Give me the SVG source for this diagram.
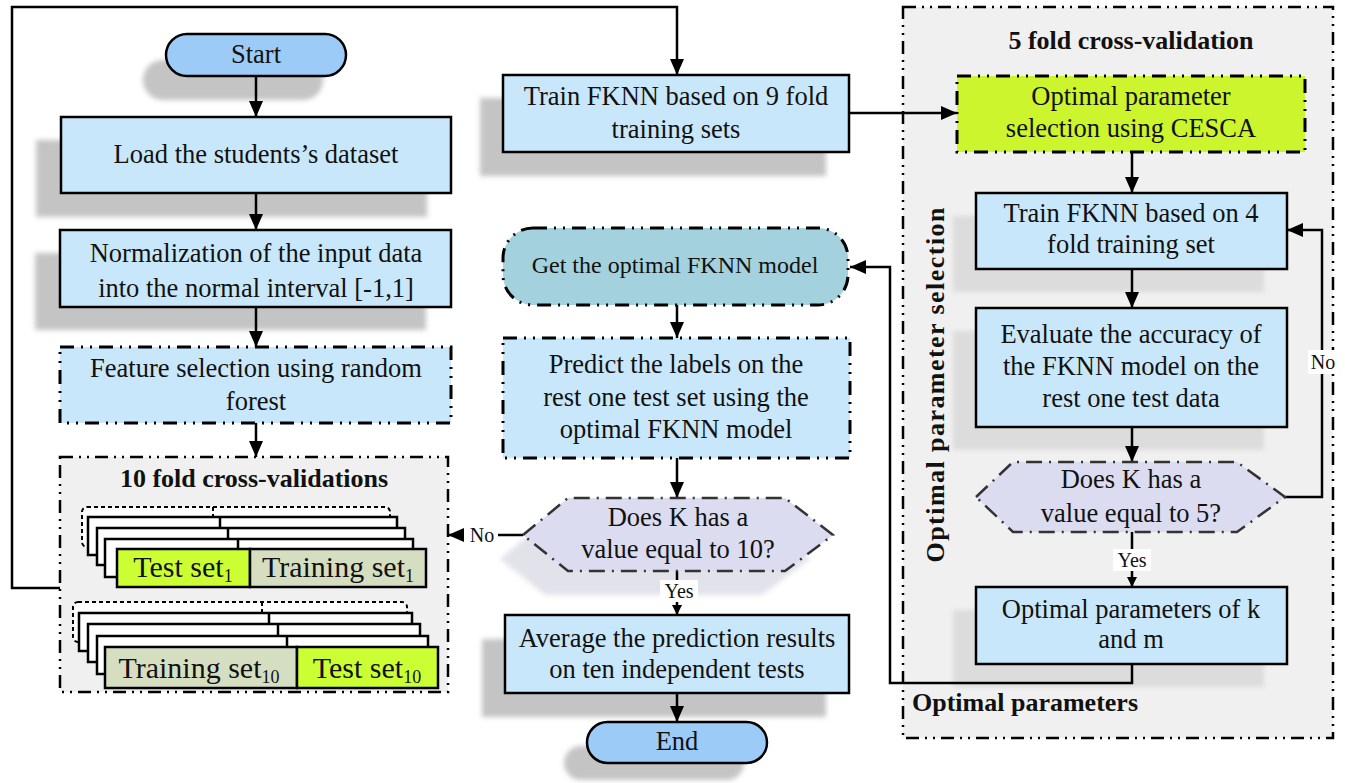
<svg xmlns="http://www.w3.org/2000/svg" width="1345" height="783" viewBox="0 0 1345 783">
  <defs>
    <style>
      text { font-family: "Liberation Serif", "Times New Roman", serif; fill: #111; }
      .t { font-size: 26.5px; text-anchor: middle; }
      .ts { font-size: 24px; text-anchor: middle; }
      .lbl { font-size: 20px; text-anchor: middle; }
      .bold { font-size: 26px; font-weight: bold; }
      .ct { font-size: 30px; text-anchor: middle; }
      .box { fill: #c9e7fa; stroke: #000; stroke-width: 2.5; }
      .term { fill: #9ccbf7; stroke: #000; stroke-width: 2.5; }
      .dd { stroke: #000; stroke-width: 3; stroke-dasharray: 14 7 2 7 2 7; }
      .panel { fill: #f0f0f0; stroke: #000; stroke-width: 2.5; stroke-dasharray: 13 6 2 6 2 6; }
      .hex { fill: #dcdcf0; stroke: #333; stroke-width: 2.5; stroke-dasharray: 16 7 2 7; }
      .shadow { fill: #c4c4c4; filter: url(#blur); }
      .shadow-l { fill: #dcdcdc; filter: url(#blur); }
      .card { fill: #fff; stroke: #000; stroke-width: 2.5; }
      .green { fill: #ccff33; stroke: #000; stroke-width: 2.5; }
      .olive { fill: #d6dec2; stroke: #000; stroke-width: 2.5; }
      .wire { fill: none; stroke: #000; stroke-width: 2.5; }
    </style>
    <filter id="blur" x="-10%" y="-20%" width="120%" height="140%">
      <feGaussianBlur stdDeviation="2.5"/>
    </filter>
    <marker id="ah" markerUnits="userSpaceOnUse" markerWidth="16" markerHeight="14" refX="16" refY="7" orient="auto">
      <path d="M0,0 L16,7 L0,14 z" fill="#000"/>
    </marker>
    <marker id="ahs" markerUnits="userSpaceOnUse" markerWidth="10" markerHeight="10" refX="10" refY="5" orient="auto">
      <path d="M0,0 L10,5 L0,10 z" fill="#000"/>
    </marker>
  </defs>

  <rect width="1345" height="783" fill="#fff"/>

  <!-- right panel: 5 fold cross-validation -->
  <g id="panel-5fold">
    <rect class="panel" x="903" y="7" width="430" height="731"/>
    <text class="bold" x="1131" y="49" text-anchor="middle">5 fold cross-validation</text>
    <text class="bold" transform="translate(944,385) rotate(-90)" text-anchor="middle" font-size="27" textLength="355" lengthAdjust="spacing">Optimal parameter selection</text>
    <text class="bold" x="912" y="711">Optimal parameters</text>
  </g>

  <!-- left panel: 10 fold cross-validations -->
  <g id="panel-10fold">
    <rect class="panel" x="60" y="457" width="388" height="235"/>
    <text class="bold" x="254" y="487" text-anchor="middle">10 fold cross-validations</text>
  </g>

  <!-- shadows -->
  <g id="shadows">
    <rect class="shadow" x="143" y="60" width="180" height="40" rx="20"/>
    <rect class="shadow" x="36" y="140" width="391" height="77"/>
    <rect class="shadow" x="35" y="253" width="391" height="77"/>
    <rect class="shadow" x="480" y="98" width="346" height="78"/>
    <rect class="shadow" x="482" y="639" width="344" height="78"/>
    <rect class="shadow" x="564" y="746" width="180" height="34" rx="17"/>
    <polygon points="500,559 545,522 762,522 810,559 762,595 545,595" fill="#e2e2ea" filter="url(#blur)"/>
    <rect class="shadow-l" x="953" y="216" width="311" height="76"/>
    <rect class="shadow-l" x="953" y="331" width="311" height="119"/>
    <rect class="shadow-l" x="953" y="610" width="311" height="77"/>
  </g>

  <!-- connectors -->
  <g id="connectors">
    <line class="wire" x1="256" y1="76" x2="256" y2="117" marker-end="url(#ah)"/>
    <line class="wire" x1="256" y1="193" x2="256" y2="230" marker-end="url(#ah)"/>
    <line class="wire" x1="256" y1="307" x2="256" y2="347" marker-end="url(#ah)"/>
    <line class="wire" x1="256" y1="423" x2="256" y2="457" marker-end="url(#ah)"/>
    <polyline class="wire" points="60,588 12,588 12,7 677,7 677,75" marker-end="url(#ah)"/>
    <line class="wire" x1="849" y1="113" x2="957" y2="113" marker-end="url(#ah)"/>
    <line class="wire" x1="1132" y1="152" x2="1132" y2="193" marker-end="url(#ah)"/>
    <line class="wire" x1="1132" y1="269" x2="1132" y2="308" marker-end="url(#ah)"/>
    <line class="wire" x1="1132" y1="427" x2="1132" y2="462" marker-end="url(#ah)"/>
    <polyline class="wire" points="1285,497 1322,497 1322,230 1287,230" marker-end="url(#ah)"/>
    <line class="wire" x1="1132" y1="532" x2="1132" y2="587" marker-end="url(#ahs)"/>
    <polyline class="wire" points="1132,664 1132,683 890,683 890,267 850,267" marker-end="url(#ah)"/>
    <line class="wire" x1="677" y1="305" x2="677" y2="338" marker-end="url(#ah)"/>
    <line class="wire" x1="677" y1="458" x2="677" y2="498" marker-end="url(#ah)"/>
    <line class="wire" x1="523" y1="535" x2="448" y2="535" marker-end="url(#ah)"/>
    <line class="wire" x1="677" y1="571" x2="677" y2="615" marker-end="url(#ahs)"/>
    <line class="wire" x1="677" y1="693" x2="677" y2="722" marker-end="url(#ah)"/>
    <!-- branch labels -->
    <rect x="464" y="524" width="34" height="22" fill="#fff"/>
    <text class="lbl" x="482" y="542">No</text>
    <rect x="660" y="580" width="38" height="22" fill="#fff"/>
    <text class="lbl" x="679" y="598">Yes</text>
    <rect x="1113" y="549" width="38" height="22" fill="#fff"/>
    <text class="lbl" x="1132" y="567">Yes</text>
    <rect x="1308" y="350" width="30" height="24" fill="#fff"/>
    <text class="lbl" x="1323" y="369">No</text>
  </g>

  <g id="start">
    <rect class="term" x="166" y="34" width="180" height="42" rx="21"/>
    <text class="t" x="256" y="63">Start</text>
  </g>

  <g id="load">
    <rect class="box" x="61" y="117" width="390" height="76"/>
    <text class="t" x="256" y="163">Load the students’s dataset</text>
  </g>

  <g id="normalize">
    <rect class="box" x="60" y="230" width="391" height="77"/>
    <text class="t" x="256" y="262">Normalization of the input data</text>
    <text class="t" x="256" y="297">into the normal interval [-1,1]</text>
  </g>

  <g id="feature-selection">
    <rect class="dd" x="60" y="347" width="391" height="76" fill="#c9e7fa"/>
    <text class="t" x="256" y="377">Feature selection using random</text>
    <text class="t" x="256" y="410">forest</text>
  </g>

  <g id="fold-1">
    <rect x="82" y="507" width="308" height="40" rx="5" fill="#fff" stroke="#000" stroke-width="2" stroke-dasharray="4 3"/>
    <line x1="213" y1="507" x2="213" y2="517" stroke="#000" stroke-width="2" stroke-dasharray="4 3"/>
    <rect class="card" x="88" y="517" width="309" height="38"/>
    <line x1="220" y1="517" x2="220" y2="528" stroke="#000" stroke-width="2.5"/>
    <rect class="card" x="97" y="528" width="308" height="37"/>
    <line x1="228" y1="528" x2="228" y2="539" stroke="#000" stroke-width="2.5"/>
    <rect class="card" x="105" y="539" width="308" height="38"/>
    <line x1="238" y1="539" x2="238" y2="549" stroke="#000" stroke-width="2.5"/>
    <rect class="green" x="117" y="549" width="133" height="38"/>
    <rect class="olive" x="250" y="549" width="176" height="38"/>
    <text class="ct" x="183" y="577">Test set<tspan font-size="18" dy="5">1</tspan></text>
    <text class="ct" x="338" y="577">Training set<tspan font-size="18" dy="5">1</tspan></text>
  </g>

  <g id="fold-10">
    <rect x="73" y="602" width="334" height="40" rx="5" fill="#fff" stroke="#000" stroke-width="2" stroke-dasharray="4 3"/>
    <line x1="262" y1="602" x2="262" y2="613" stroke="#000" stroke-width="2" stroke-dasharray="4 3"/>
    <rect class="card" x="79" y="613" width="333" height="38"/>
    <line x1="269" y1="613" x2="269" y2="624" stroke="#000" stroke-width="2.5"/>
    <rect class="card" x="88" y="624" width="332" height="38"/>
    <line x1="278" y1="624" x2="278" y2="636" stroke="#000" stroke-width="2.5"/>
    <rect class="card" x="97" y="636" width="331" height="38"/>
    <line x1="287" y1="636" x2="287" y2="647" stroke="#000" stroke-width="2.5"/>
    <rect class="olive" x="105" y="647" width="192" height="41"/>
    <rect class="green" x="297" y="647" width="141" height="41"/>
    <text class="ct" x="199" y="678">Training set<tspan font-size="18" dy="5">10</tspan></text>
    <text class="ct" x="367" y="678">Test set<tspan font-size="18" dy="5">10</tspan></text>
  </g>

  <g id="train-9fold">
    <rect class="box" x="503" y="75" width="346" height="77"/>
    <text class="t" x="676" y="105">Train FKNN based on 9 fold</text>
    <text class="t" x="676" y="138">training sets</text>
  </g>

  <g id="optimal-model">
    <rect x="503" y="228" width="345" height="77" rx="30" fill="#a3d2de" stroke="#000" stroke-width="3" stroke-dasharray="14 7 2 7 2 7"/>
    <text class="ts" x="675" y="273">Get the optimal FKNN model</text>
  </g>

  <g id="predict">
    <rect class="dd" x="503" y="338" width="347" height="120" fill="#c9e7fa"/>
    <text class="t" x="676" y="373">Predict the labels on the</text>
    <text class="t" x="676" y="406">rest one test set using the</text>
    <text class="t" x="676" y="438">optimal FKNN model</text>
  </g>

  <g id="check-k10">
    <polygon class="hex" points="523,535 568,498 785,498 833,535 785,571 568,571"/>
    <text class="t" x="678" y="526">Does K has a</text>
    <text class="t" x="678" y="558">value equal to 10?</text>
  </g>

  <g id="average">
    <rect class="box" x="505" y="615" width="344" height="78"/>
    <text class="t" x="677" y="647">Average the prediction results</text>
    <text class="t" x="677" y="678">on ten independent tests</text>
  </g>

  <g id="end">
    <rect class="term" x="587" y="722" width="180" height="41" rx="20.5"/>
    <text class="t" x="677" y="750">End</text>
  </g>

  <g id="cesca">
    <rect class="dd" x="957" y="76" width="348" height="76" fill="#ccf52e"/>
    <text class="t" x="1131" y="105">Optimal parameter</text>
    <text class="t" x="1131" y="137">selection using CESCA</text>
  </g>

  <g id="train-4fold">
    <rect class="box" x="976" y="193" width="311" height="76"/>
    <text class="t" x="1131" y="222">Train FKNN based on 4</text>
    <text class="t" x="1131" y="253">fold training set</text>
  </g>

  <g id="evaluate">
    <rect class="box" x="976" y="308" width="311" height="119"/>
    <text class="t" x="1131" y="343">Evaluate the accuracy of</text>
    <text class="t" x="1131" y="375">the FKNN model on the</text>
    <text class="t" x="1131" y="407">rest one test data</text>
  </g>

  <g id="check-k5">
    <polygon class="hex" points="976,497 1013,462 1237,462 1285,497 1237,532 1013,532"/>
    <text class="t" x="1131" y="488">Does K has a</text>
    <text class="t" x="1131" y="522">value equal to 5?</text>
  </g>

  <g id="optimal-params">
    <rect class="box" x="976" y="587" width="311" height="77"/>
    <text class="t" x="1131" y="618">Optimal parameters of k</text>
    <text class="t" x="1131" y="648">and m</text>
  </g>
</svg>
